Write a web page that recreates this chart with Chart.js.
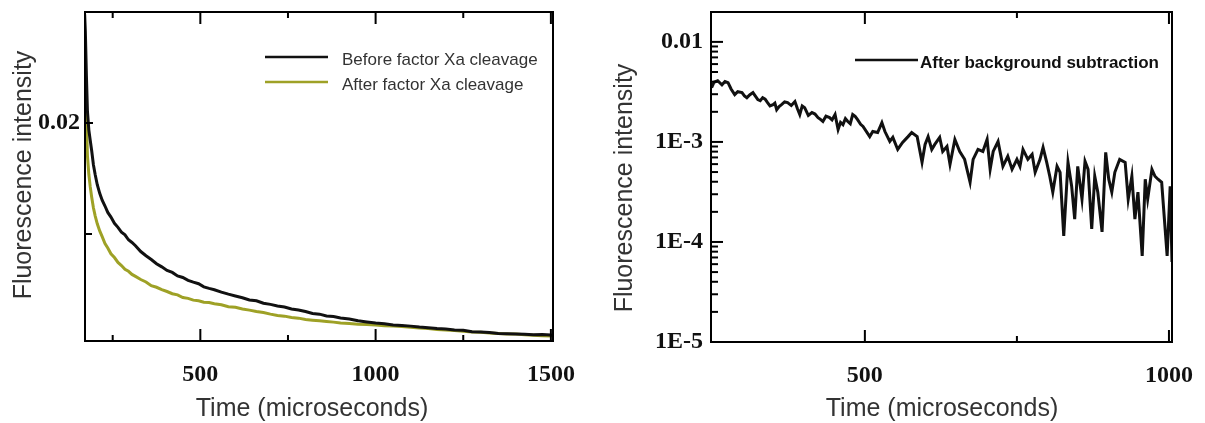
<!DOCTYPE html>
<html>
<head>
<meta charset="utf-8">
<title>Fluorescence decay</title>
<script src="https://cdn.jsdelivr.net/npm/chart.js@4.4.1/dist/chart.umd.min.js"></script>
<style>
  body { margin: 0; background: #fff; }
  #wrap { position: relative; width: 1205px; height: 423px; }
  .panel { position: absolute; top: 0; }
  #left { left: 0; }
  #right { left: 600px; }
</style>
</head>
<body>
<div id="wrap">
  <div class="panel" id="left"><canvas id="decayChart" width="600" height="423"></canvas></div>
  <div class="panel" id="right"><canvas id="logChart" width="605" height="423"></canvas></div>
</div>
<script>
// left panel: decay before / after factor Xa cleavage
const decayTimes = [170, 172, 175, 178, 182, 186, 190, 195, 200, 206, 213, 220, 228, 236, 245, 255, 265, 275, 285, 295,
  305, 315, 330, 345, 360, 375, 390, 405, 420, 435, 450, 465, 480, 495, 510, 525, 540, 560, 580, 600,
  620, 640, 660, 680, 700, 720, 740, 760, 780, 800, 820, 840, 860, 880, 900, 925, 950, 975, 1000, 1025,
  1050, 1075, 1100, 1125, 1150, 1175, 1200, 1225, 1250, 1275, 1300, 1325, 1350, 1375, 1400, 1425, 1450, 1475, 1500, 1506];

const beforeCleavage = [0.02490, 0.02412, 0.02215, 0.02052, 0.01968, 0.01921, 0.01876, 0.01812, 0.01768, 0.01722,
  0.01683, 0.01652, 0.01626, 0.01597, 0.01576, 0.01548, 0.01530, 0.01508, 0.01496, 0.01474,
  0.01462, 0.01447, 0.01421, 0.01402, 0.01385, 0.01366, 0.01352, 0.01336, 0.01327, 0.01311,
  0.01304, 0.01291, 0.01283, 0.01276, 0.01262, 0.01255, 0.01249, 0.01238, 0.01229, 0.01221,
  0.01213, 0.01203, 0.01199, 0.01188, 0.01183, 0.01176, 0.01171, 0.01162, 0.01158, 0.01151,
  0.01142, 0.01139, 0.01131, 0.01128, 0.01122, 0.01117, 0.01109, 0.01104, 0.01099, 0.01096,
  0.01090, 0.01088, 0.01085, 0.01081, 0.01078, 0.01074, 0.01072, 0.01068, 0.01066, 0.01060,
  0.01058, 0.01056, 0.01052, 0.01051, 0.01050, 0.01048, 0.01046, 0.01047, 0.01045, 0.01044];

const afterCleavage = [0.02261, 0.02175, 0.02014, 0.01852, 0.01768, 0.01712, 0.01667, 0.01618, 0.01582, 0.01546,
  0.01514, 0.01488, 0.01457, 0.01437, 0.01411, 0.01394, 0.01372, 0.01358, 0.01341, 0.01332,
  0.01318, 0.01309, 0.01295, 0.01284, 0.01267, 0.01260, 0.01249, 0.01241, 0.01231, 0.01226,
  0.01214, 0.01210, 0.01202, 0.01199, 0.01193, 0.01191, 0.01186, 0.01181, 0.01172, 0.01170,
  0.01162, 0.01157, 0.01151, 0.01146, 0.01139, 0.01133, 0.01130, 0.01124, 0.01121, 0.01115,
  0.01112, 0.01109, 0.01106, 0.01103, 0.01099, 0.01097, 0.01094, 0.01092, 0.01090, 0.01087,
  0.01085, 0.01083, 0.01080, 0.01077, 0.01074, 0.01070, 0.01067, 0.01065, 0.01062, 0.01059,
  0.01057, 0.01054, 0.01052, 0.01050, 0.01049, 0.01046, 0.01044, 0.01042, 0.01041, 0.01040];

const decayXTicks = [500, 1000, 1500];
const decayXLabels = ["500", "1000", "1500"];
const decayXMinor = [250, 750, 1250];
const decayYTicks = [0.02];
const decayYLabels = ["0.02"];
const decayYMinor = [0.015];

// right panel: background-subtracted signal on a log axis
const logTimes = [248, 252, 258, 265, 270, 275, 280, 286, 291, 298, 302, 306, 311, 316, 320, 324, 328, 332, 336, 340,
  344, 349, 352, 355, 359, 363, 368, 373, 379, 385, 389, 393, 397, 401, 407, 413, 418, 423, 427, 431,
  436, 442, 446, 451, 456, 460, 464, 468, 472, 476, 480, 484, 488, 493, 497,
  508, 513, 521, 528, 533, 541, 546, 554, 562, 571, 577, 586,
  594, 599, 604, 610, 615, 623, 628, 635, 640, 648, 656, 664, 673, 678, 686, 694, 701, 706, 711, 719,
  727, 735, 742, 750, 755, 760, 768, 775, 780, 788, 793, 799, 804, 809, 816, 821, 827, 834, 840, 845,
  850, 857, 862, 867, 873, 878, 883, 890, 896, 901, 906, 911, 919, 928, 933, 939, 944, 949, 956, 961,
  965, 972, 977, 982, 988, 997, 1002, 1005];

const afterSubtraction = [0.00348, 0.00395, 0.00409, 0.00372, 0.00402, 0.00391, 0.00338, 0.00297, 0.00318, 0.00311,
  0.00289, 0.00277, 0.00296, 0.00311, 0.00287, 0.00265, 0.00258, 0.00277, 0.00268, 0.00247,
  0.00229, 0.00236, 0.00244, 0.00210, 0.00226, 0.00236, 0.00251, 0.00247, 0.00231, 0.00253,
  0.00216, 0.00188, 0.00229, 0.00220, 0.00184, 0.00197, 0.00190, 0.00175, 0.00168, 0.00160,
  0.00181, 0.00175, 0.00166, 0.00188, 0.00133, 0.00157, 0.00149, 0.00171, 0.00160, 0.00152,
  0.00188, 0.00180, 0.00167, 0.00150, 0.00143,
  0.00113, 0.00127, 0.00124, 0.00156, 0.00127, 0.00101, 0.00111, 0.000841, 0.000989, 0.00113, 0.00124, 0.00113,
  0.000625, 0.000944, 0.00113, 0.000841, 0.000944, 0.00111, 0.000803, 0.000902, 0.000597, 0.00106,
  0.000803, 0.000670, 0.000395, 0.000670, 0.000841, 0.000803, 0.00106, 0.000532, 0.000803, 0.00101,
  0.000570, 0.000718, 0.000532, 0.000670, 0.000570, 0.000841, 0.000670, 0.000751, 0.000497, 0.000670,
  0.000881, 0.000625, 0.000454, 0.000315, 0.000570, 0.000497, 0.000115, 0.000625, 0.000361, 0.000169,
  0.000570, 0.000268, 0.000640, 0.000532, 0.000135, 0.000454, 0.000315, 0.000126, 0.000787, 0.000424,
  0.000315, 0.000497, 0.000670, 0.000625, 0.000268, 0.000454, 0.000169, 0.000315, 0.0000726, 0.000424,
  0.000268, 0.000532, 0.000454, 0.000424, 0.000395, 0.0000726, 0.000361, 0.0000632];

const logXTicks = [500, 1000];
const logXLabels = ["500", "1000"];
const logXMinor = [750];
const logYTicks = [1e-5, 1e-4, 1e-3, 0.01];
const logYLabels = ["1E-5", "1E-4", "1E-3", "0.01"];

const tickFont = { family: "'Liberation Serif', 'Times New Roman', serif", size: 24, weight: "bold", lineHeight: 1 };
const titleFont = "25px 'Liberation Sans', Arial, sans-serif";

// closed frame plus inward tick marks on every side that has them
const frameTicks = {
  id: "frameTicks",
  afterDatasetsDraw(chart, args, opts) {
    const { ctx, chartArea: a, scales } = chart;
    ctx.save();
    ctx.strokeStyle = "#000";
    ctx.lineWidth = 2;
    ctx.strokeRect(a.left, a.top, a.right - a.left, a.bottom - a.top);
    const xMark = (v, len) => {
      const px = scales.x.getPixelForValue(v);
      ctx.beginPath();
      ctx.moveTo(px, a.bottom); ctx.lineTo(px, a.bottom - len);
      ctx.moveTo(px, a.top); ctx.lineTo(px, a.top + len);
      ctx.stroke();
    };
    const yMark = (v, len) => {
      const py = scales.y.getPixelForValue(v);
      ctx.beginPath();
      ctx.moveTo(a.left, py); ctx.lineTo(a.left + len, py);
      ctx.stroke();
    };
    opts.xMajor.forEach(v => xMark(v, 12));
    opts.xMinor.forEach(v => xMark(v, 6));
    opts.yMajor.forEach(v => yMark(v, opts.yMajorLen));
    opts.yMinor.forEach(v => yMark(v, 7));
    ctx.restore();
  }
};

// legend drawn inside the plot box
const insideLegend = {
  id: "insideLegend",
  afterDraw(chart, args, opts) {
    const { ctx, chartArea: a } = chart;
    ctx.save();
    ctx.font = opts.font;
    ctx.textBaseline = "middle";
    chart.data.datasets.forEach((ds, i) => {
      const y = a.top + opts.top + i * opts.rowGap;
      const x0 = a.left + opts.left;
      ctx.strokeStyle = ds.borderColor;
      ctx.lineWidth = 2.5;
      ctx.beginPath();
      ctx.moveTo(x0, y);
      ctx.lineTo(x0 + opts.lineLen, y);
      ctx.stroke();
      ctx.fillStyle = opts.color;
      ctx.fillText(ds.label, x0 + opts.lineLen + opts.gap, y + 3);
    });
    ctx.restore();
  }
};

// axis titles, centred where the figure has them
const axisTitles = {
  id: "axisTitles",
  afterDraw(chart, args, opts) {
    const { ctx } = chart;
    ctx.save();
    ctx.font = titleFont;
    ctx.fillStyle = "#333";
    ctx.textAlign = "center";
    ctx.textBaseline = "middle";
    ctx.fillText(opts.xText, opts.xAt[0], opts.xAt[1]);
    ctx.translate(opts.yAt[0], opts.yAt[1]);
    ctx.rotate(-Math.PI / 2);
    ctx.fillText(opts.yText, 0, 0);
    ctx.restore();
  }
};

function points(xs, ys) {
  return xs.map((x, i) => ({ x: x, y: ys[i] }));
}

// fixed axis sizes so the plot box lands in the same place every time
function fixHeight(h) {
  return s => { s.height = h; s.paddingLeft = 0; s.paddingRight = 0; };
}
function fixWidth(w) {
  return s => { s.width = w; s.paddingTop = 0; s.paddingBottom = 0; };
}

new Chart(document.getElementById("decayChart"), {
  type: "line",
  data: {
    datasets: [
      { label: "Before factor Xa cleavage", data: points(decayTimes, beforeCleavage), borderColor: "#111", borderWidth: 3, pointRadius: 0, tension: 0 },
      { label: "After factor Xa cleavage", data: points(decayTimes, afterCleavage), borderColor: "#9ea126", borderWidth: 3, pointRadius: 0, tension: 0 },
    ],
  },
  options: {
    responsive: false,
    animation: false,
    devicePixelRatio: 1,
    layout: { padding: { left: 0, right: 47, top: 12, bottom: 0 } },
    plugins: {
      legend: { display: false },
      tooltip: { enabled: false },
      frameTicks: { xMajor: decayXTicks, xMinor: decayXMinor, yMajor: decayYTicks, yMinor: decayYMinor, yMajorLen: 8 },
      insideLegend: { font: "17px 'Liberation Sans', Arial, sans-serif", color: "#333", left: 180, top: 45, rowGap: 25, lineLen: 63, gap: 14 },
      axisTitles: { xText: "Time (microseconds)", xAt: [312, 409], yText: "Fluorescence intensity", yAt: [24, 175] },
    },
    scales: {
      x: {
        type: "linear",
        min: 171,
        max: 1506,
        afterBuildTicks: s => { s.ticks = decayXTicks.map(v => ({ value: v })); },
        afterFit: fixHeight(82),
        grid: { display: false, drawTicks: false },
        border: { display: false },
        ticks: { callback: (v, i) => decayXLabels[i], font: tickFont, color: "#111", padding: 22, autoSkip: false, maxRotation: 0 },
      },
      y: {
        type: "linear",
        min: 0.01018,
        max: 0.025,
        afterBuildTicks: s => { s.ticks = decayYTicks.map(v => ({ value: v })); },
        afterFit: fixWidth(85),
        grid: { display: false, drawTicks: false },
        border: { display: false },
        ticks: { callback: (v, i) => decayYLabels[i], font: tickFont, color: "#111", padding: 5 },
      },
    },
  },
  plugins: [frameTicks, insideLegend, axisTitles],
});

// minor marks 2..9 within each decade of the log axis
const logYMinor = [];
logYTicks.forEach(d => {
  for (let m = 2; m <= 9; m++) logYMinor.push(m * d);
});

new Chart(document.getElementById("logChart"), {
  type: "line",
  data: {
    datasets: [
      { label: "After background subtraction", data: points(logTimes, afterSubtraction), borderColor: "#111", borderWidth: 3, pointRadius: 0, tension: 0 },
    ],
  },
  options: {
    responsive: false,
    animation: false,
    devicePixelRatio: 1,
    layout: { padding: { left: 0, right: 33, top: 12, bottom: 0 } },
    plugins: {
      legend: { display: false },
      tooltip: { enabled: false },
      frameTicks: { xMajor: logXTicks, xMinor: logXMinor, yMajor: logYTicks, yMinor: logYMinor.filter(v => v < 0.0199), yMajorLen: 12 },
      insideLegend: { font: "bold 17px 'Liberation Sans', Arial, sans-serif", color: "#111", left: 144, top: 48, rowGap: 25, lineLen: 63, gap: 2 },
      axisTitles: { xText: "Time (microseconds)", xAt: [342, 409], yText: "Fluorescence intensity", yAt: [25, 188] },
    },
    scales: {
      x: {
        type: "linear",
        min: 247,
        max: 1005,
        afterBuildTicks: s => { s.ticks = logXTicks.map(v => ({ value: v })); },
        afterFit: fixHeight(81),
        grid: { display: false, drawTicks: false },
        border: { display: false },
        ticks: { callback: (v, i) => logXLabels[i], font: tickFont, color: "#111", padding: 22, autoSkip: false, maxRotation: 0 },
      },
      y: {
        type: "logarithmic",
        min: 1e-5,
        max: 0.0199,
        afterBuildTicks: s => { s.ticks = logYTicks.map(v => ({ value: v })); },
        afterFit: fixWidth(111),
        grid: { display: false, drawTicks: false },
        border: { display: false },
        ticks: { callback: (v, i) => logYLabels[i], font: tickFont, color: "#111", padding: 8 },
      },
    },
  },
  plugins: [frameTicks, insideLegend, axisTitles],
});
</script>
</body>
</html>
